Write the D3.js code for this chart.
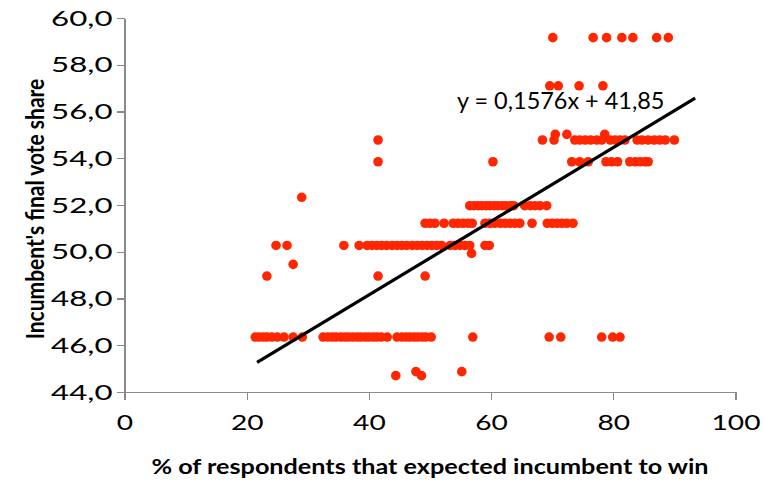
<!DOCTYPE html>
<html>
<head>
<meta charset="utf-8">
<script src="https://cdn.jsdelivr.net/npm/d3@7"></script>
<style>
  body { margin: 0; background: #fff; }
  text { font-family: Lato, "Open Sans", sans-serif; fill: #000; }
  .axis path, .axis line { stroke: #8a8a8a; stroke-width: 1.3; shape-rendering: crispEdges; }
  .axis text { font-size: 22px; }
  .title { font-size: 21px; font-weight: bold; }
</style>
</head>
<body>
<svg id="chart" width="764" height="481"></svg>
<script>

// vote share levels (y) and the % of respondents (x) observed at each level
var voteShares = [59.16, 57.1, 55.02, 54.78, 53.85, 51.97, 51.22, 50.27, 49.93, 49.46, 48.96, 46.35, 44.87, 44.7, 52.33];
var respondents = [
	[70.1, 76.7, 78.9, 81.4, 83.2, 87.1, 89.0],
	[69.6, 71.0, 74.4, 78.3],
	[70.5, 72.4, 78.6],
	[41.5, 68.4, 70.3, 73.7, 74.5, 75.4, 76.3, 77.3, 78.1, 79.5, 80.3, 81.1, 81.9, 83.9, 84.7, 85.7, 86.7, 87.6, 88.5, 90.0],
	[41.5, 60.3, 73.2, 74.5, 75.9, 78.8, 79.7, 80.7, 82.7, 83.6, 84.4, 85.2, 85.7],
	[56.5, 57.2, 57.9, 58.5, 59.2, 59.8, 60.5, 61.1, 61.8, 62.4, 63.1, 63.7, 65.5, 66.4, 67.2, 68.0, 69.1],
	[49.2, 50.0, 50.8, 52.3, 53.8, 54.6, 55.4, 56.2, 56.9, 59.0, 59.8, 60.6, 61.5, 62.3, 63.1, 63.9, 64.7, 66.7, 69.2, 70.0, 70.8, 71.6, 72.4, 73.4],
	[24.8, 26.6, 35.9, 38.4, 39.7, 40.5, 41.3, 42.1, 42.9, 43.8, 44.6, 45.4, 46.2, 47.1, 47.9, 48.7, 49.5, 50.3, 51.1, 51.9, 53.3, 54.1, 54.9, 55.7, 56.5, 59.0, 59.7],
	[56.8],
	[27.6],
	[23.3, 41.5, 49.2],
	[21.4, 22.0, 22.7, 23.3, 24.1, 25.0, 26.1, 27.6, 29.1, 32.5, 33.3, 34.0, 34.6, 35.4, 36.1, 36.7, 37.4, 38.1, 38.7, 39.4, 40.0, 40.7, 41.3, 42.0, 43.0, 44.6, 45.4, 46.1, 46.7, 47.4, 48.0, 48.7, 49.3, 50.2, 57.0, 69.5, 71.4, 78.1, 79.9, 81.1],
	[47.7, 55.2],
	[44.4, 48.6],
	[29.0]
];

// linear trend: y = 0,1576x + 41,85
var trendSlope = 0.1576, trendIntercept = 41.85;
var trendRange = [21.7, 93.4];
var trendLabel = "y = 0,1576x + 41,85";

var xTicks = [0, 20, 40, 60, 80, 100];
var yTicks = [44, 46, 48, 50, 52, 54, 56, 58, 60];

var xTitle = "% of respondents that expected incumbent to win";
var yTitle = "Incumbent's final vote share";

/////////////////////////

var svg = d3.select("#chart");

var x = d3.scaleLinear().domain([0, 100]).range([124.5, 735.5]);
var y = d3.scaleLinear().domain([44, 60]).range([392, 18]);

// points
var points = [];
voteShares.forEach(function(v, i){
	respondents[i].forEach(function(p){
		points.push({x: p, y: v});
	});
});

svg.append("g").selectAll("circle")
	.data(points)
	.enter().append("circle")
	.attr("cx", function(d){ return x(d.x); })
	.attr("cy", function(d){ return y(d.y); })
	.attr("r", 4.8)
	.style("fill", "#ff2600");

// trend line
var trend = trendRange.map(function(v){ return {x: v, y: trendSlope*v + trendIntercept}; });
svg.append("path")
	.datum(trend)
	.attr("d", d3.line().x(function(d){ return x(d.x); }).y(function(d){ return y(d.y); }))
	.style("stroke", "#000")
	.style("stroke-width", 3.2)
	.style("fill", "none");

svg.append("text")
	.attr("transform", "translate(457,109) scale(1.02,1)")
	.style("font-size", "23px")
	.text(trendLabel);

// axes
var xAxis = svg.append("g")
	.attr("class", "axis")
	.attr("transform", "translate(0,392)")
	.call(d3.axisBottom(x).tickValues(xTicks).tickSize(8).tickSizeOuter(0).tickPadding(14));
xAxis.selectAll("text").attr("transform", "scale(1.28,1)");

var yAxis = svg.append("g")
	.attr("class", "axis")
	.attr("transform", "translate(124.5,0)")
	.call(d3.axisLeft(y).tickValues(yTicks).tickSize(8).tickSizeOuter(0).tickPadding(4)
		.tickFormat(function(d){ return d.toFixed(1).replace(".", ","); }));
yAxis.selectAll("text").each(function(){
	var t = d3.select(this);
	var tx = +t.attr("x");
	t.attr("x", 0).attr("transform", "translate(" + tx + ",0) scale(1.42,1)");
});

// titles
svg.append("text")
	.attr("class", "title")
	.attr("transform", "translate(430,474) scale(1.2,1)")
	.style("text-anchor", "middle")
	.text(xTitle);

svg.append("text")
	.attr("class", "title")
	.attr("transform", "translate(44,209) scale(1.2,1) rotate(-90)")
	.style("text-anchor", "middle")
	.text(yTitle);

</script>
</body>
</html>
